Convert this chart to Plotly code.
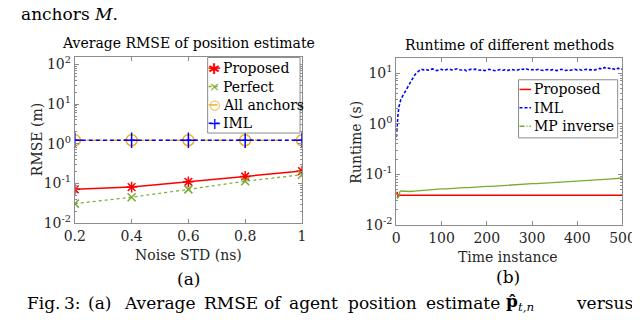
import plotly.graph_objects as go

# (a) RMSE vs noise STD
noise_std = [0.2, 0.4, 0.6, 0.8, 1.0]
rmse_proposed = [0.071, 0.081, 0.11, 0.15, 0.205]
rmse_perfect = [0.031, 0.045, 0.071, 0.114, 0.166]
rmse_all = [1.23, 1.23, 1.23, 1.23, 1.23]
rmse_iml = [1.23, 1.23, 1.23, 1.23, 1.23]

# (b) runtime vs time instance
t_prop = [0, 2, 4, 6, 10, 500]
rt_prop = [0.040, 0.045, 0.036, 0.039, 0.039, 0.039]

t_iml = [0, 2, 4, 6, 8, 10, 13, 16, 20, 24, 28, 32, 36, 40, 45, 50] + list(range(55, 505, 5))
rt_iml = [0.55, 1.1, 1.6, 2.2, 2.6, 3.0, 3.4, 3.8, 4.5, 5.3, 6.1, 7.0, 7.9, 9.0, 10.2, 11.3,
          12.0, 11.6, 11.9, 11.4, 11.8, 12.1, 11.5, 11.2, 11.7, 11.9, 11.3, 11.6, 12.0, 11.8, 11.4,
          11.9, 12.2, 11.7, 11.5, 11.8, 11.1, 11.6, 11.9, 11.7, 12.0, 11.6, 11.4, 11.7, 11.2, 11.5,
          11.9, 11.6, 11.3, 11.1, 11.5, 11.8, 11.4, 11.6, 11.2, 11.7, 11.9, 11.5, 11.3, 11.6, 12.2,
          11.8, 12.4, 11.9, 11.6, 11.8, 11.4, 11.7, 11.9, 11.5, 11.3, 11.6, 11.8, 11.4, 11.7, 11.5,
          11.2, 11.6, 11.9, 11.5, 11.3, 11.6, 11.4, 11.7, 11.9, 11.5, 11.8, 11.4, 11.6, 11.9, 11.5,
          11.7, 11.3, 11.8, 12.1, 12.4, 12.0, 12.9, 12.3, 12.6, 11.9, 12.2, 11.7, 12.5, 11.8, 12.1]

t_mp = [0, 3, 6, 8] + list(range(10, 510, 10))
rt_mp = [0.036, 0.034, 0.037, 0.046,
         0.047, 0.046, 0.046, 0.047, 0.048, 0.048, 0.049, 0.050, 0.051, 0.052,
         0.052, 0.053, 0.054, 0.054, 0.055, 0.055, 0.056, 0.057, 0.057, 0.058,
         0.058, 0.059, 0.060, 0.061, 0.061, 0.062, 0.063, 0.064, 0.065, 0.066,
         0.066, 0.067, 0.068, 0.069, 0.070, 0.070, 0.071, 0.072, 0.073, 0.074,
         0.075, 0.076, 0.077, 0.078, 0.079, 0.080, 0.081, 0.082, 0.083, 0.085]

# tick labels
a_ticks = [0.01, 0.1, 1, 10, 100]
a_ticktext = ["10<sup>-2</sup>", "10<sup>-1</sup>", "10<sup>0</sup>", "10<sup>1</sup>", "10<sup>2</sup>"]
b_ticks = [0.01, 0.1, 1, 10]
b_ticktext = ["10<sup>-2</sup>", "10<sup>-1</sup>", "10<sup>0</sup>", "10<sup>1</sup>"]

FONT = "DejaVu Serif"
SYM = "DejaVu Sans"
RED, GREEN, ORANGE, BLUE = "#ff0000", "#77ac30", "#edb120", "#0000ff"
GREY = "#8c8c8c"
W, H = 640, 320

minor_log = [m * 10 ** e for e in range(-2, 2) for m in range(2, 10)]

fig = go.Figure()

fig.add_trace(go.Scatter(x=noise_std, y=rmse_proposed, name="Proposed", mode="lines+markers",
                         line=dict(color=RED, width=1.5),
                         marker=dict(symbol="asterisk-open", size=9, color=RED, line=dict(color=RED, width=1.5))))
fig.add_trace(go.Scatter(x=noise_std, y=rmse_perfect, name="Perfect", mode="lines+markers",
                         line=dict(color=GREEN, width=1.2, dash="dot"),
                         marker=dict(symbol="x-thin-open", size=8, color=GREEN, line=dict(color=GREEN, width=1.5))))
fig.add_trace(go.Scatter(x=noise_std, y=rmse_all, name="All anchors", mode="lines+markers",
                         line=dict(color=ORANGE, width=1.5, dash="dashdot"),
                         marker=dict(symbol="circle-open", size=11, color=ORANGE, line=dict(color=ORANGE, width=1.5))))
fig.add_trace(go.Scatter(x=noise_std, y=rmse_iml, name="IML", mode="lines+markers",
                         line=dict(color=BLUE, width=1.5, dash="4px,3px"),
                         marker=dict(symbol="cross-thin-open", size=11, color=BLUE, line=dict(color=BLUE, width=1.5))))

fig.add_trace(go.Scatter(x=t_prop, y=rt_prop, name="Proposed", mode="lines", xaxis="x2", yaxis="y2",
                         line=dict(color=RED, width=1.5)))
fig.add_trace(go.Scatter(x=t_iml, y=rt_iml, name="IML", mode="lines", xaxis="x2", yaxis="y2",
                         line=dict(color=BLUE, width=1.6, dash="3px,2px")))
fig.add_trace(go.Scatter(x=t_mp, y=rt_mp, name="MP inverse", mode="lines", xaxis="x2", yaxis="y2",
                         line=dict(color=GREEN, width=1.3)))

axis_common = dict(showline=True, linecolor=GREY, linewidth=1, mirror="ticks", ticks="inside",
                   ticklen=4, tickcolor=GREY, showgrid=False, zeroline=False,
                   tickfont=dict(family=FONT, size=14, color="#262626"))

fig.update_layout(
    width=W, height=H,
    margin=dict(l=0, r=0, t=0, b=0),
    showlegend=False,
    paper_bgcolor="white", plot_bgcolor="white",
    font=dict(family=FONT, size=14, color="#262626"),
    xaxis=dict(domain=[58 / W, 294 / W], range=[0.2, 1.0], tickvals=noise_std,
               ticktext=["0.2", "0.4", "0.6", "0.8", "1"], anchor="y", **axis_common),
    yaxis=dict(domain=[1 - 220 / H, 1 - 48 / H], type="log", range=[-2, 2.2], tickvals=a_ticks,
               ticktext=a_ticktext, anchor="x",
               minor=dict(tickvals=minor_log, ticks="inside", ticklen=2, tickcolor=GREY),
               **axis_common),
    xaxis2=dict(domain=[392 / W, 627 / W], range=[0, 500], tickvals=[0, 100, 200, 300, 400, 500],
                anchor="y2", **axis_common),
    yaxis2=dict(domain=[1 - 222 / H, 1 - 50 / H], type="log", range=[-2, 1.29], tickvals=b_ticks,
                ticktext=b_ticktext, anchor="x2",
                minor=dict(tickvals=minor_log, ticks="inside", ticklen=2, tickcolor=GREY),
                **axis_common),
)


def px_note(text, x, y, size=14, color="#262626", xanchor="center", angle=0, family=FONT, yanchor="middle"):
    fig.add_annotation(text=text, x=x / W, y=1 - y / H, xref="paper", yref="paper",
                       xanchor=xanchor, yanchor=yanchor, showarrow=False, textangle=angle,
                       font=dict(family=family, size=size, color=color))


def px_rect(x0, y0, x1, y1):
    fig.add_shape(type="rect", xref="paper", yref="paper", x0=x0 / W, x1=x1 / W,
                  y0=1 - y1 / H, y1=1 - y0 / H, line=dict(color=GREY, width=1), fillcolor="white")


def px_seg(x0, x1, y, color, dash="solid"):
    fig.add_shape(type="line", xref="paper", yref="paper", x0=x0 / W, x1=x1 / W,
                  y0=1 - y / H, y1=1 - y / H, line=dict(color=color, width=1.5, dash=dash))


# legend (a)
px_rect(196, 49, 292, 127)
legend_a = [("Proposed", RED, "solid", "∗", 17), ("Perfect", GREEN, "dot", "×", 13),
            ("All anchors", ORANGE, "dashdot", "○", 13), ("IML", BLUE, "4px,3px", "+", 16)]
for i, (label, col, dash, glyph, gsize) in enumerate(legend_a):
    ry = 60 + 19 * i
    px_seg(197, 209, ry, col, dash)
    px_note(f"<b>{glyph}</b>" if glyph == "∗" else glyph, 203, ry, size=gsize, color=col, family=SYM)
    px_note(label, 210, ry, color="black", xanchor="left")

# legend (b)
px_rect(519, 72, 622, 132)
legend_b = [("Proposed", RED, "solid"), ("IML", BLUE, "3px,2px"), ("MP inverse", GREEN, "5px,2px,1px,2px")]
for i, (label, col, dash) in enumerate(legend_b):
    ry = 82 + 19 * i
    px_seg(520, 532, ry, col, dash)
    px_note(label, 533, ry, color="black", xanchor="left")

px_note("Average RMSE of position estimate", 176, 34, color="black")
px_note("Runtime of different methods", 510, 36, color="black")
px_note("Noise STD (ns)", 176, 253)
px_note("Time instance", 508, 255)
px_note("RMSE (m)", 18, 134, angle=-90)
px_note("Runtime (s)", 350, 136, angle=-90)
px_note("(a)", 176, 278, size=17, color="black")
px_note("(b)", 508, 276, size=17, color="black")
px_note("anchors <i>M</i>.", 0, 16, size=17, color="black", xanchor="left", yanchor="bottom")

caption_words = ["Fig.", "3:", "(a)", "Average", "RMSE", "of", "agent", "position", "estimate",
                 "<b>p̂</b><sub><i>t,n</i></sub>", "versus"]
caption_x = [6, 45, 70, 107, 190, 252, 278, 340, 421, 504, 577]
for word, cx in zip(caption_words, caption_x):
    px_note(word, cx, 302, size=17, color="black", xanchor="left")

fig.write_html("out.html")
